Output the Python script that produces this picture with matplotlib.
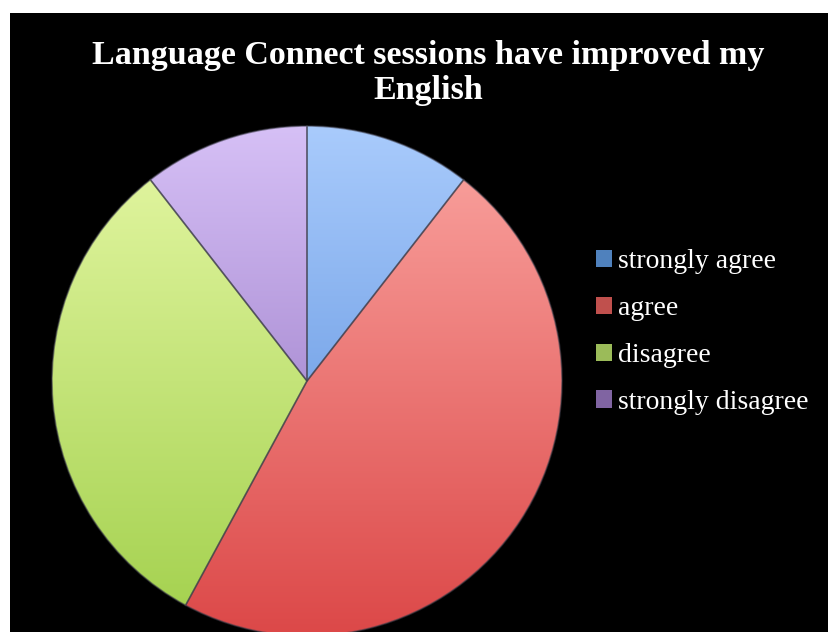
import matplotlib
matplotlib.use("Agg")
import matplotlib.pyplot as plt
import numpy as np
from matplotlib.colors import to_rgb
from matplotlib.patches import Rectangle, Patch

# survey answers
labels = ["strongly agree", "agree", "disagree", "strongly disagree"]
counts = [2, 9, 6, 2]
top_colors = ["#a9cbfc", "#fba6a2", "#e6f8a6", "#d6c0f6"]
bottom_colors = ["#4f86d8", "#dc4848", "#a2d04c", "#8866b8"]
mid_colors = ["#4f81bd", "#c0504d", "#9bbb59", "#8064a2"]
title_lines = ["Language Connect sessions have improved my", "English"]

W, H = 829, 632
fig = plt.figure(figsize=(W / 100, H / 100), dpi=100, facecolor="white")

# black chart area
bg = fig.add_axes([0, 0, 1, 1])
bg.set_xlim(0, W)
bg.set_ylim(H, 0)
bg.axis("off")
bg.add_patch(Rectangle((10, 13), W - 10, H - 13, facecolor="black", edgecolor="none"))

# pie axes: centre (307, 381) px, radius 255 px
cx, cy, r = 307, 381, 255
ax = fig.add_axes([(cx - r) / W, (H - cy - r) / H, 2 * r / W, 2 * r / H])
ax.set_xlim(-1, 1)
ax.set_ylim(-1, 1)
ax.axis("off")

wedges, _ = ax.pie(counts, startangle=90, counterclock=False, radius=1,
                   colors=mid_colors,
                   wedgeprops=dict(edgecolor="none", linewidth=0))

# vertical gradient fill per slice
t = np.linspace(0, 1, 256)[:, None]
for w, c0, c1 in zip(wedges, top_colors, bottom_colors):
    a, b = np.array(to_rgb(c0)), np.array(to_rgb(c1))
    grad = (a * (1 - t) + b * t)[:, None, :]
    im = ax.imshow(grad, extent=(-1, 1, -1, 1), origin="upper",
                   aspect="auto", zorder=2, interpolation="bilinear")
    im.set_clip_path(w)
    w.set_facecolor("none")
    w.set_edgecolor((0.25, 0.25, 0.3, 0.55))
    w.set_linewidth(1.2)
    w.set_zorder(3)
ax.set_xlim(-1, 1)
ax.set_ylim(-1, 1)

# two title lines, baselines at 64 px and 99 px from the top
for line, ypx in zip(title_lines, [64, 99]):
    fig.text(428 / W, 1 - ypx / H, line, ha="center", va="baseline",
             family="Liberation Serif", fontweight="bold", fontsize=24.5,
             color="white")

handles = [Patch(facecolor=c, edgecolor="none") for c in mid_colors]
fig.legend(handles, labels, loc="upper left", bbox_to_anchor=(585 / W, 1 - 238 / H),
           frameon=False, prop=dict(family="Liberation Serif", size=20),
           labelcolor="white", handlelength=0.58, handleheight=0.58,
           handletextpad=0.2, labelspacing=0.79, borderaxespad=0)

fig.savefig("out.png", dpi=100, facecolor="white")
